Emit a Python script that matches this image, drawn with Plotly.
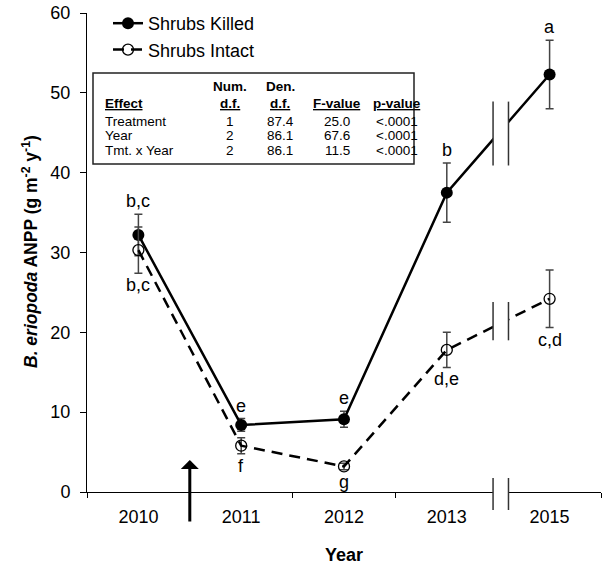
import plotly.graph_objects as go

# ---------------- data ----------------
years = ["2010", "2011", "2012", "2013", "2015"]
killed = [32.2, 8.4, 9.1, 37.5, 52.3]
killed_err = [2.6, 0.8, 1.0, 3.7, 4.3]
intact = [30.3, 5.8, 3.2, 17.8, 24.2]
intact_err = [2.9, 1.0, 0.4, 2.2, 3.6]
killed_letters = ["b,c", "e", "e", "b", "a"]
intact_letters = ["b,c", "f", "g", "d,e", "c,d"]

table_head1 = ["", "Num.", "Den.", "", ""]
table_head2 = ["Effect", "d.f.", "d.f.", "F-value", "p-value"]
table_effect = ["Treatment", "Year", "Tmt. x Year"]
table_numdf = ["1", "2", "2"]
table_dendf = ["87.4", "86.1", "86.1"]
table_f = ["25.0", "67.6", "11.5"]
table_p = ["<.0001", "<.0001", "<.0001"]

xs = list(range(len(years)))
FONT = "Liberation Sans, Arial, Helvetica, sans-serif"

# pixel -> paper helpers (plot area: x 87..601, y 13..492)
L, R, T, B = 87, 4, 13, 76
W, H = 605, 568
PW, PH = W - L - R, H - T - B
def xp(px):
    return (px - L) / PW
def yp(py):
    return (H - B - py) / PH

fig = go.Figure()
fig.add_trace(go.Scatter(
    x=xs, y=killed, name="Shrubs Killed", mode="lines+markers",
    line=dict(color="black", width=2.5),
    marker=dict(symbol="circle", size=12, color="black"),
    error_y=dict(type="data", array=killed_err, color="#444", thickness=1.5, width=4),
))
fig.add_trace(go.Scatter(
    x=xs, y=intact, name="Shrubs Intact", mode="lines+markers",
    line=dict(color="black", width=2.5, dash="11px,7px"),
    marker=dict(symbol="circle-open", size=11, color="black", line=dict(width=1.3)),
    error_y=dict(type="data", array=intact_err, color="#444", thickness=1.5, width=4),
))

ann = []
for x, v, e, t in zip(xs, killed, killed_err, killed_letters):
    ann.append(dict(x=x, y=v + e, text=t, showarrow=False, yanchor="bottom", yshift=1,
                    font=dict(size=18, color="black", family=FONT)))
for x, v, e, t in zip(xs, intact, intact_err, intact_letters):
    ann.append(dict(x=x, y=v - e, text=t, showarrow=False, yanchor="top", yshift=0,
                    font=dict(size=18, color="black", family=FONT)))

# arrow at treatment time
ann.append(dict(x=0.5, xref="x", y=yp(460), yref="paper", ax=0, ay=63, text="",
                showarrow=True, arrowhead=1, arrowsize=1, arrowwidth=3, arrowcolor="black"))

# axis titles
ann.append(dict(x=xp(30), y=yp(252), xref="paper", yref="paper", textangle=-90, showarrow=False,
                xanchor="center", yanchor="middle",
                text="<b><i>B. eriopoda</i> ANPP (g m<sup>-2</sup> y<sup>-1</sup>)</b>",
                font=dict(size=17.5, color="black", family=FONT)))
ann.append(dict(x=xp(344), y=yp(555), xref="paper", yref="paper", showarrow=False,
                xanchor="center", yanchor="middle",
                text="<b>Year</b>", font=dict(size=18, color="black", family=FONT)))

# table
col_x = [103, 230, 280, 337, 397]
tf = dict(size=13.5, color="black", family=FONT)
for i, (h1, h2) in enumerate(zip(table_head1, table_head2)):
    anchor = "left" if i == 0 else "center"
    if h1:
        ann.append(dict(x=xp(col_x[i]), y=yp(86), xref="paper", yref="paper", text="<b>%s</b>" % h1,
                        showarrow=False, xanchor=anchor, yanchor="middle", font=tf))
    ann.append(dict(x=xp(col_x[i]), y=yp(103), xref="paper", yref="paper", text="<b><u>%s</u></b>" % h2,
                    showarrow=False, xanchor=anchor, yanchor="middle", font=tf))
row_y = [121.5, 136, 150.5]
for r, cols in enumerate(zip(table_effect, table_numdf, table_dendf, table_f, table_p)):
    for i, txt in enumerate(cols):
        anchor = "left" if i == 0 else "center"
        ann.append(dict(x=xp(col_x[i]), y=yp(row_y[r]), xref="paper", yref="paper", text=txt,
                        showarrow=False, xanchor=anchor, yanchor="middle", font=tf))

shapes = []
# table box
shapes.append(dict(type="rect", xref="paper", yref="paper", x0=xp(93), x1=xp(414), y0=yp(164), y1=yp(73),
                   line=dict(color="#222", width=1.5), fillcolor="rgba(0,0,0,0)", layer="above"))
# axis break (gap + marks)
xb1, xb2 = 3.45, 3.60
shapes.append(dict(type="rect", xref="x", yref="paper", x0=xb1, x1=xb2, y0=-0.012, y1=1.0,
                   line=dict(width=0), fillcolor="white", layer="above"))
for xb in (xb1, xb2):
    shapes.append(dict(type="line", xref="x", yref="y", x0=xb, x1=xb, y0=40.9, y1=48.9,
                       line=dict(color="#333", width=1.5), layer="above"))
    shapes.append(dict(type="line", xref="x", yref="y", x0=xb, x1=xb, y0=19.0, y1=23.8,
                       line=dict(color="#333", width=1.5), layer="above"))
    shapes.append(dict(type="line", xref="x", yref="paper", x0=xb, x1=xb, y0=yp(510), y1=yp(478),
                       line=dict(color="#333", width=1.5), layer="above"))

fig.update_layout(
    width=W, height=H, margin=dict(l=L, r=R, t=T, b=B, pad=0),
    plot_bgcolor="white", paper_bgcolor="white",
    font=dict(family=FONT, color="black", size=18),
    showlegend=True,
    legend=dict(x=xp(108), y=yp(5), xanchor="left", yanchor="top", bgcolor="rgba(0,0,0,0)",
                font=dict(size=18, family=FONT, color="black"), tracegroupgap=0),
    annotations=ann, shapes=shapes,
)
fig.update_xaxes(range=[-0.5, 4.5], tickvals=xs, ticktext=years, ticks="", showline=True,
                 linecolor="black", linewidth=1, showgrid=False, zeroline=False,
                 tickfont=dict(size=18, family=FONT, color="black"), ticklabelstandoff=8,
                 minor=dict(tickmode="array", tickvals=[-0.5, 0.5, 1.5, 2.5, 4.5], ticks="outside",
                            ticklen=5, tickcolor="black", tickwidth=1))
fig.update_yaxes(range=[0, 60], dtick=10, ticks="outside", ticklen=6, tickcolor="black",
                 showline=True, linecolor="black", linewidth=1, showgrid=False, zeroline=False,
                 tickfont=dict(size=18, family=FONT, color="black"), ticklabelstandoff=6)

fig.write_html("out.html", config={"displayModeBar": False},
               post_script="document.body.style.margin='0';document.body.style.padding='0';")
